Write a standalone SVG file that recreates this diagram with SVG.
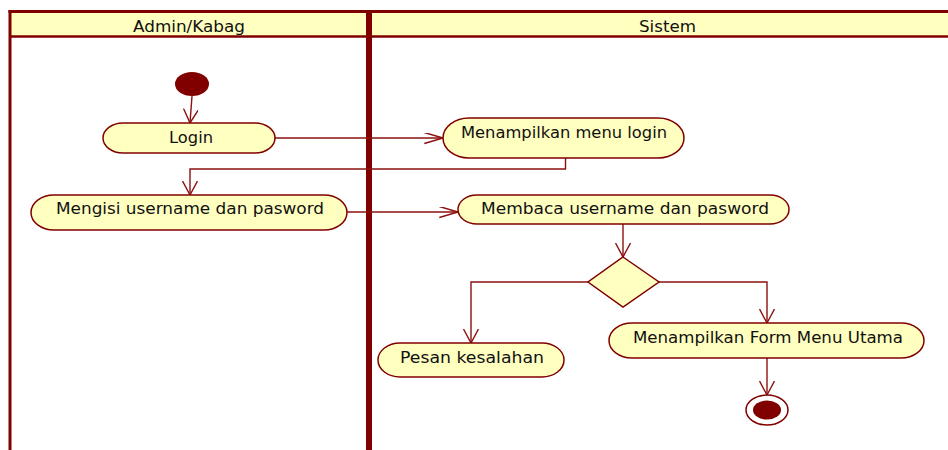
<svg xmlns="http://www.w3.org/2000/svg" width="948" height="450" viewBox="0 0 948 450">
<style>
.lane{fill:none;stroke:#800000}
.node{fill:#FFFFC0;stroke:#800000;stroke-width:1.5}
.lbl{font-family:"DejaVu Sans",Verdana,sans-serif;font-size:15px;fill:#111}
.edge{fill:none;stroke:#8B1010;stroke-width:1.4}
</style>
<defs>
<marker id="arrH" markerUnits="userSpaceOnUse" viewBox="0 0 20 12" refX="18.7" refY="5.5" markerWidth="20" markerHeight="12" orient="auto">
<path d="M0,0 L18.7,5.5 L0,11" fill="none" stroke="#8B1010" stroke-width="1.4"/>
</marker>
<marker id="arrV" markerUnits="userSpaceOnUse" viewBox="0 0 16 16" refX="14" refY="7.5" markerWidth="16" markerHeight="16" orient="auto">
<path d="M0,0 L14,7.5 L0,15" fill="none" stroke="#8B1010" stroke-width="1.4"/>
</marker>
</defs>
<g id="swimlanes">
<rect x="10" y="11.5" width="940" height="25" fill="#FFFFC0"/>
<line class="lane" x1="8.5" y1="11.5" x2="948" y2="11.5" stroke-width="3"/>
<line class="lane" x1="10" y1="36.5" x2="948" y2="36.5" stroke-width="2.5"/>
<line class="lane" x1="10" y1="10" x2="10" y2="450" stroke-width="3"/>
<line class="lane" x1="369" y1="10" x2="369" y2="450" stroke-width="6"/>
<text class="lbl" x="133" y="31.5" textLength="112" lengthAdjust="spacingAndGlyphs">Admin/Kabag</text>
<text class="lbl" x="639" y="31.5" textLength="57" lengthAdjust="spacingAndGlyphs">Sistem</text>
</g>
<g id="connectors">
<path class="edge" d="M192,96 L190,123" marker-end="url(#arrV)"/>
<path class="edge" d="M275,138 L443,138" marker-end="url(#arrH)"/>
<path class="edge" d="M565.5,158 L565.5,169 L190,169 L190,195" marker-end="url(#arrV)"/>
<path class="edge" d="M347,212 L458,212" marker-end="url(#arrH)"/>
<path class="edge" d="M623,224 L623,257" marker-end="url(#arrV)"/>
<path class="edge" d="M588,282 L471,282 L471,343" marker-end="url(#arrV)"/>
<path class="edge" d="M659,282 L767,282 L767,323" marker-end="url(#arrV)"/>
<path class="edge" d="M767,357 L767,395" marker-end="url(#arrV)"/>
</g>
<g id="start">
<ellipse cx="192" cy="84" rx="17" ry="12" fill="#800000"/>
</g>
<g id="login">
<rect class="node" x="103" y="123" width="172" height="30" rx="20" ry="15"/>
<text class="lbl" x="169" y="143" textLength="44" lengthAdjust="spacingAndGlyphs">Login</text>
</g>
<g id="mengisi">
<rect class="node" x="31" y="195" width="316" height="35" rx="23" ry="17.5"/>
<text class="lbl" x="56" y="214" textLength="268" lengthAdjust="spacingAndGlyphs">Mengisi username dan pasword</text>
</g>
<g id="menampilkan-login">
<rect class="node" x="443" y="118" width="241" height="40" rx="26" ry="20"/>
<text class="lbl" x="461" y="138" textLength="206" lengthAdjust="spacingAndGlyphs">Menampilkan menu login</text>
</g>
<g id="membaca">
<rect class="node" x="458" y="195" width="331" height="29" rx="19" ry="14.5"/>
<text class="lbl" x="481" y="214" textLength="288" lengthAdjust="spacingAndGlyphs">Membaca username dan pasword</text>
</g>
<g id="decision">
<polygon class="node" points="623,257 659,282 623,307 588,282"/>
</g>
<g id="pesan">
<rect class="node" x="378" y="343" width="186" height="34" rx="22" ry="17"/>
<text class="lbl" x="400" y="362.5" textLength="144" lengthAdjust="spacingAndGlyphs">Pesan kesalahan</text>
</g>
<g id="form-menu">
<rect class="node" x="609" y="323" width="315" height="35" rx="23" ry="17.5"/>
<text class="lbl" x="633" y="342.5" textLength="270" lengthAdjust="spacingAndGlyphs">Menampilkan Form Menu Utama</text>
</g>
<g id="end">
<ellipse cx="767" cy="410" rx="21" ry="15" fill="#FFFFFF" stroke="#800000" stroke-width="1.5"/>
<ellipse cx="767" cy="410" rx="14" ry="9.5" fill="#800000"/>
</g>
</svg>
